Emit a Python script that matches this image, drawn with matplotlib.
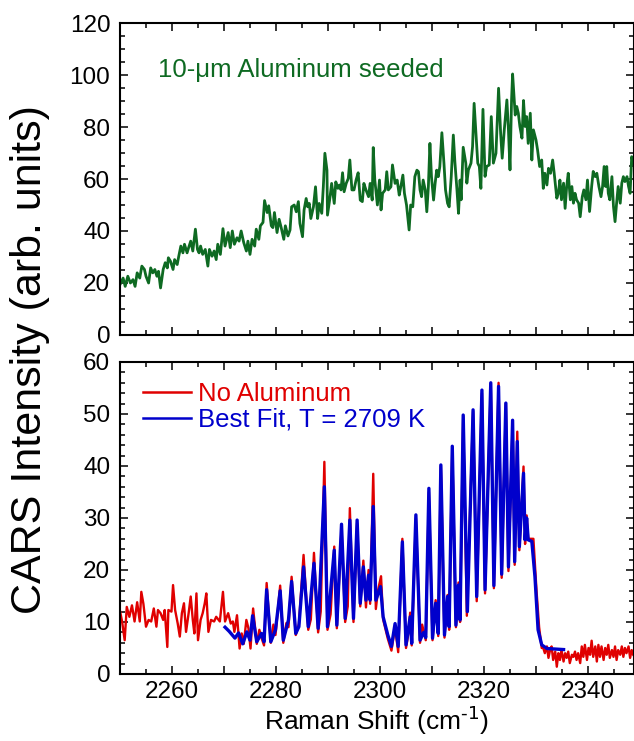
import numpy as np
import matplotlib
matplotlib.use("Agg")
import matplotlib.pyplot as plt
from matplotlib.ticker import MultipleLocator, FuncFormatter

plt.rcParams['font.family'] = ['Liberation Sans', 'DejaVu Sans']
plt.rcParams['mathtext.default'] = 'regular'

# top panel: 10-um aluminum seeded spectrum
green_x = [2250.0, 2250.6, 2251.0, 2251.5, 2252.0, 2252.5, 2252.9, 2253.3, 2253.8, 2254.2,
           2254.7, 2255.0, 2255.5, 2255.9, 2256.3, 2256.7, 2257.1, 2257.4, 2257.8, 2258.3,
           2258.7, 2259.1, 2259.3, 2259.7, 2260.2, 2260.5, 2261.0, 2261.3, 2261.7, 2262.1,
           2262.4, 2262.9, 2263.2, 2263.6, 2264.0, 2264.5, 2264.9, 2265.2, 2265.5, 2265.9,
           2266.4, 2266.9, 2267.2, 2267.7, 2268.1, 2268.5, 2268.8, 2269.3, 2269.8, 2270.2,
           2270.8, 2271.2, 2271.6, 2272.0, 2272.5, 2272.9, 2273.3, 2273.8, 2274.3, 2274.6,
           2275.0, 2275.4, 2275.9, 2276.2, 2276.7, 2277.0, 2277.5, 2277.8, 2278.3, 2278.6,
           2279.1, 2279.4, 2279.7, 2280.2, 2280.6, 2281.0, 2281.5, 2281.8, 2282.3,
           2282.7, 2283.0, 2283.5, 2283.9, 2284.3, 2284.6, 2285.1, 2285.4, 2285.8, 2286.1,
           2286.4, 2286.7, 2287.2, 2287.6, 2288.0, 2288.3, 2288.8, 2289.1, 2289.4, 2289.8,
           2289.9, 2290.4, 2290.7, 2291.2, 2291.5, 2291.9, 2292.2, 2292.5, 2292.8, 2293.1,
           2293.5, 2293.9, 2294.2, 2294.6, 2295.0, 2295.4, 2295.8, 2296.2, 2296.6, 2296.9,
           2297.3, 2297.8, 2298.1, 2298.5, 2298.7, 2299.0, 2299.5, 2299.9, 2300.2, 2300.5,
           2301.0, 2301.3, 2301.6, 2302.1, 2302.4, 2302.9, 2303.3, 2303.7, 2304.0, 2304.4,
           2304.7, 2305.1, 2305.6, 2305.9, 2306.3, 2306.7, 2307.1, 2307.4, 2307.7, 2308.0,
           2308.3, 2308.7, 2309.0, 2309.3, 2309.6, 2309.9, 2310.3, 2310.6, 2310.9, 2311.2,
           2311.5, 2311.9, 2312.3, 2312.6, 2313.0, 2313.3, 2313.7, 2314.1, 2314.4, 2314.8,
           2315.1, 2315.4, 2315.6, 2316.0, 2316.5, 2316.7, 2317.0, 2317.5, 2317.8, 2318.1,
           2318.5, 2318.8, 2319.1, 2319.4, 2319.8, 2320.2, 2320.5, 2321.0, 2321.4, 2321.8,
           2322.3, 2322.8, 2323.2, 2323.5, 2323.9, 2324.4, 2324.7, 2325.0, 2325.3, 2325.5,
           2326.0, 2326.3, 2326.6, 2326.9, 2327.3, 2327.6, 2327.9, 2328.2, 2328.5, 2328.9,
           2329.2, 2329.5, 2330.0, 2330.3, 2330.7, 2331.1, 2331.4, 2331.7, 2332.1, 2332.4,
           2332.8, 2333.2, 2333.5, 2334.0, 2334.3, 2334.6, 2334.9, 2335.3, 2335.6, 2335.9,
           2336.2, 2336.6, 2336.9, 2337.2, 2337.5, 2337.8, 2338.2, 2338.5, 2338.9, 2339.2,
           2339.6, 2339.9, 2340.3, 2340.7, 2341.0, 2341.4, 2341.7, 2342.1, 2342.5, 2342.8,
           2343.1, 2343.4, 2343.6, 2343.9, 2344.2, 2344.6, 2344.9, 2345.2, 2345.5, 2345.8,
           2346.2, 2346.5, 2346.8, 2347.1, 2347.5, 2347.8, 2348.1, 2348.4, 2348.7]
green_y = [19.4, 21.9, 18.7, 22.6, 20.0, 21.3, 18.7, 23.9, 21.9, 26.5,
           25.2, 22.6, 20.0, 25.8, 23.9, 25.2, 22.6, 24.5, 18.1, 25.2,
           27.8, 25.8, 29.7, 28.4, 25.2, 29.0, 27.1, 30.3, 34.2, 31.6,
           34.9, 31.6, 33.6, 36.1, 32.3, 40.7, 32.9, 31.6, 34.2, 31.0,
           32.9, 26.5, 32.9, 30.3, 32.3, 29.0, 34.9, 31.0, 40.9, 34.2,
           39.4, 33.6, 40.0, 34.9, 37.4, 36.1, 40.0, 35.5, 32.3, 36.1,
           31.0, 36.8, 34.2, 40.7, 36.8, 42.0, 43.3, 51.7, 47.1, 49.7,
           42.0, 41.3, 47.1, 39.4, 44.5, 41.3, 36.8, 42.0, 38.1,
           40.4, 49.3, 50.0, 47.4, 51.3, 42.9, 37.8, 48.1, 52.5, 49.3,
           50.6, 44.8, 49.3, 57.0, 44.8, 50.6, 46.8, 57.0, 69.9, 63.4,
           46.1, 53.2, 58.3, 50.6, 58.9, 56.4, 57.7, 55.8, 62.4, 55.1,
           58.3, 60.2, 67.3, 55.8, 55.8, 59.6, 62.4, 51.9, 51.3, 58.3,
           55.8, 53.2, 58.3, 51.9, 72.1, 59.6, 50.0, 59.6, 48.1, 54.5,
           55.8, 62.8, 55.8, 57.0, 65.4, 58.3, 59.6, 53.8, 57.0, 61.5,
           54.5, 50.0, 40.4, 50.0, 49.3, 60.9, 63.4, 62.8, 55.8, 53.2,
           59.6, 55.8, 47.4, 57.0, 73.7, 60.9, 51.9, 58.3, 63.4, 60.9,
           64.7, 77.8, 66.0, 55.8, 50.6, 49.3, 60.9, 76.9, 66.6, 55.8,
           46.8, 59.6, 52.0, 72.2, 66.1, 58.4, 63.5, 66.1, 72.5, 89.1,
           76.3, 66.1, 64.8, 56.4, 86.8, 61.0, 64.8, 65.4, 84.0, 66.1,
           69.9, 94.9, 77.6, 68.0, 78.9, 90.4, 78.9, 63.5, 90.4, 100.4,
           84.6, 87.9, 85.3, 80.2, 75.7, 90.2, 80.2, 84.0, 73.7, 85.3,
           67.3, 78.9, 75.0, 71.2, 64.8, 67.3, 56.4, 62.2, 57.7, 64.1,
           62.2, 67.3, 62.2, 52.6, 54.5, 59.6, 52.0, 58.4, 48.7, 57.1,
           62.2, 52.0, 57.1, 50.7, 54.5, 52.0, 50.7, 45.5, 53.2, 55.8,
           52.0, 59.6, 47.5, 57.1, 62.9, 60.9, 62.2, 57.1, 53.2, 57.1,
           64.8, 57.1, 64.8, 54.5, 52.0, 60.9, 49.4, 43.6, 50.7, 57.1,
           50.7, 58.4, 60.9, 59.0, 60.9, 57.1, 54.5, 68.6, 66.1]

# bottom panel: measured spectrum without aluminum
red_x = [2250.0, 2250.4, 2250.9, 2251.3, 2251.8, 2252.3, 2252.8, 2253.3, 2253.8, 2254.1,
         2254.5, 2255.0, 2255.5, 2256.0, 2256.5, 2257.0, 2257.3, 2257.8, 2258.3, 2258.6,
         2259.1, 2259.3, 2259.9, 2260.2, 2260.6, 2261.1, 2261.5, 2261.9, 2262.3, 2262.7,
         2263.2, 2263.6, 2264.0, 2264.3, 2264.7, 2265.0, 2265.5, 2265.9, 2266.3, 2266.6,
         2267.0, 2267.5, 2268.1, 2268.5, 2269.2, 2269.8, 2270.2, 2270.8, 2271.3, 2271.7,
         2272.0, 2272.5, 2273.0, 2273.4, 2273.8, 2274.3, 2274.7, 2275.1,
         2275.6, 2276.3, 2276.8, 2277.2, 2277.7, 2278.2, 2279.0, 2279.5, 2279.9, 2280.8,
         2281.4, 2282.0, 2282.4, 2283.0, 2283.8, 2284.4, 2285.3, 2286.2, 2286.7, 2287.3,
         2288.1, 2288.6, 2289.3, 2289.9, 2290.5, 2291.2, 2291.7, 2292.6, 2293.3, 2293.8,
         2294.2, 2294.9, 2295.6, 2296.2, 2296.8, 2297.3, 2297.8, 2298.1, 2298.7, 2299.2,
         2299.6, 2300.2, 2300.6, 2301.5, 2302.2, 2302.9, 2303.5, 2304.3, 2305.0, 2305.5,
         2305.8, 2306.1, 2306.9, 2307.7, 2308.1, 2308.8, 2309.4, 2310.1, 2310.7, 2311.2,
         2311.7, 2312.4, 2313.0, 2313.3, 2313.9, 2314.6, 2315.1, 2315.4, 2316.0, 2316.7,
         2317.9, 2318.6, 2319.6, 2320.2, 2321.3, 2321.9, 2322.8, 2323.4, 2324.2, 2324.7,
         2325.5, 2325.9, 2326.4, 2326.8, 2327.6, 2327.9, 2328.2, 2328.5, 2329.5, 2330.1,
         2330.6, 2331.1,
         2331.4, 2331.7, 2332.1, 2332.4, 2332.7, 2333.0, 2333.3, 2333.7, 2334.0, 2334.3,
         2334.6, 2334.9, 2335.3, 2335.6, 2335.9, 2336.2, 2336.5, 2336.9, 2337.2, 2337.5,
         2337.8, 2338.1, 2338.5, 2338.8, 2339.1, 2339.4, 2339.8, 2340.1, 2340.4, 2340.7,
         2341.0, 2341.4, 2341.7, 2342.0, 2342.3, 2342.6, 2343.0, 2343.3, 2343.6, 2343.9,
         2344.2, 2344.6, 2344.9, 2345.2, 2345.5, 2345.8, 2346.2, 2346.5, 2346.8, 2347.1,
         2347.4, 2347.8, 2348.1, 2348.4, 2348.7]
red_y = [12.1, 10.1, 6.5, 12.9, 11.0, 13.2, 10.1, 13.8, 10.1, 15.8,
         13.5, 9.1, 10.4, 10.1, 12.6, 9.1, 12.3, 11.7, 10.4, 12.3,
         5.2, 12.3, 12.0, 17.1, 12.3, 9.7, 7.2, 11.7, 13.6, 8.1,
         11.7, 14.9, 10.4, 7.8, 15.5, 6.5, 10.4, 11.7, 13.6, 15.5,
         8.1, 10.4, 10.1, 11.0, 10.1, 15.8, 10.1, 11.7, 9.7, 10.1,
         8.1, 11.3, 4.9, 7.8, 5.8, 10.4, 8.8, 4.9,
         12.6, 5.8, 8.5, 7.0, 5.5, 17.5, 6.0, 9.5, 7.5, 17.0,
         6.0, 9.8, 9.0, 18.7, 7.5, 9.6, 22.9, 8.5, 10.5, 23.3,
         8.0, 12.0, 40.8, 8.5, 11.5, 24.5, 8.8, 28.0, 10.0, 13.0,
         31.9, 10.0, 29.0, 13.0, 21.8, 12.8, 20.0, 13.5, 38.5, 12.5,
         16.0, 18.8, 10.5, 6.8, 4.5, 9.0, 4.2, 26.0, 5.0, 8.0,
         11.8, 5.5, 30.0, 6.0, 9.5, 6.5, 35.0, 6.5, 14.2, 7.3,
         40.0, 7.0, 15.2, 8.5, 43.5, 9.0, 17.6, 10.0, 49.5, 11.2,
         50.5, 14.0, 54.0, 15.5, 55.8, 16.5, 56.0, 18.5, 52.0, 19.8,
         48.0, 21.0, 46.6, 23.8, 39.9, 25.0, 30.5, 26.0, 26.0, 16.0,
         9.0, 5.0,
         5.0, 4.0, 5.3, 3.1, 4.6, 5.3, 2.7, 4.3, 1.4, 4.0,
         2.7, 4.6, 2.4, 4.0, 3.1, 4.3, 2.1, 3.7, 3.3, 4.3,
         2.7, 4.0, 2.1, 5.3, 3.3, 5.6, 2.7, 5.0, 3.7, 6.4,
         3.3, 5.3, 2.4, 5.6, 3.3, 5.3, 2.7, 5.0, 3.7, 5.6,
         3.1, 4.6, 3.3, 5.3, 2.7, 4.6, 3.7, 5.3, 3.3, 5.0,
         4.0, 5.3, 3.1, 4.6, 3.7]

# best fit (T = 2709 K)
blue_x = [2270.2, 2271.0, 2272.1, 2272.8, 2273.6, 2274.4, 2275.0, 2275.5, 2276.3, 2277.2,
          2277.7, 2278.2, 2279.0, 2279.9, 2280.8, 2281.4, 2282.4, 2283.0, 2283.8, 2284.4,
          2285.3, 2286.2, 2287.3, 2288.1, 2289.3, 2289.9, 2291.2, 2291.7, 2292.6, 2293.3,
          2294.2, 2294.9, 2295.6, 2296.2, 2296.8, 2297.3, 2297.8, 2298.1, 2298.7, 2299.2,
          2300.1, 2300.6, 2301.5, 2302.2, 2302.9, 2303.5, 2304.3, 2305.0, 2305.8, 2306.1,
          2306.9, 2307.7, 2308.4, 2308.8, 2309.4, 2310.1, 2310.7, 2311.2, 2311.7, 2312.4,
          2313.0, 2313.3, 2313.9, 2314.6, 2315.1, 2315.4, 2316.0, 2316.8, 2317.9, 2318.6,
          2319.6, 2320.2, 2321.3, 2321.9, 2322.8, 2323.4, 2324.2, 2324.7, 2325.5, 2325.9,
          2326.4, 2326.8, 2327.6, 2327.9, 2328.2, 2328.5, 2329.2, 2329.8, 2330.4, 2331.1,
          2332.1, 2335.3]
blue_y = [9.0, 8.2, 6.9, 7.9, 5.8, 8.1, 6.5, 11.2, 6.2, 7.8,
          6.2, 16.2, 6.2, 8.5, 16.0, 6.5, 10.4, 17.8, 7.8, 9.1,
          20.6, 9.1, 21.3, 8.8, 36.0, 9.1, 23.8, 9.4, 28.8, 10.7,
          29.6, 10.7, 29.6, 13.6, 20.6, 14.2, 19.0, 14.2, 32.2, 14.2,
          16.8, 11.0, 7.5, 5.3, 9.7, 5.3, 25.4, 5.6, 11.0, 5.9,
          30.6, 6.5, 8.0, 7.0, 35.7, 6.9, 13.6, 7.8, 40.2, 7.5,
          14.9, 9.1, 43.8, 9.4, 17.1, 10.4, 49.8, 12.0, 50.8, 14.9,
          54.6, 16.2, 56.0, 17.0, 55.3, 19.2, 52.1, 20.6, 48.8, 21.6,
          44.7, 24.5, 38.6, 25.8, 30.0, 25.8, 25.5, 18.7, 8.5, 5.6,
          4.9, 4.7]

green = '#0e6a22'
red = '#e00000'
blue = '#0000cc'

fig = plt.figure(figsize=(6.34, 7.41), dpi=100)
W, H = 634.0, 741.0
ax1 = fig.add_axes([120 / W, 1 - 335 / H, 513.5 / W, 312 / H])
ax2 = fig.add_axes([120 / W, 1 - 674 / H, 513.5 / W, 312 / H])

ax1.plot(green_x, green_y, color=green, lw=2.0)
ax2.plot(red_x, red_y, color=red, lw=1.7, label='No Aluminum')
ax2.plot(blue_x, blue_y, color=blue, lw=2.4, label='Best Fit, T = 2709 K')


def xfmt(v, pos):
    if round(v) % 20 == 0:
        return '%d' % round(v)
    return ''


for ax in (ax1, ax2):
    ax.set_xlim(2250, 2348.75)
    ax.xaxis.set_major_locator(MultipleLocator(10))
    ax.xaxis.set_minor_locator(MultipleLocator(5))
    ax.tick_params(which='both', direction='in', top=True, right=True,
                   width=1.1, labelsize=17.5)
    ax.tick_params(which='major', length=6)
    ax.tick_params(which='minor', length=3.8)
    ax.tick_params(axis='y', pad=7)
    ax.tick_params(axis='x', pad=5)
    for s in ax.spines.values():
        s.set_linewidth(1.5)

ax1.set_ylim(0, 120)
ax1.yaxis.set_major_locator(MultipleLocator(20))
ax1.yaxis.set_minor_locator(MultipleLocator(5))
ax1.tick_params(labelbottom=False)

ax2.set_ylim(0, 60)
ax2.yaxis.set_major_locator(MultipleLocator(10))
ax2.yaxis.set_minor_locator(MultipleLocator(2))
ax2.xaxis.set_major_formatter(FuncFormatter(xfmt))

ax1.text(0.074, 0.849, '10-\u03bcm Aluminum seeded', transform=ax1.transAxes,
         color=green, fontsize=18.5, ha='left', va='center')

leg = ax2.legend(loc='upper left', bbox_to_anchor=(0.045, 0.935), frameon=False,
                 fontsize=18.5, handlelength=1.85, handletextpad=0.3,
                 labelspacing=0.05, borderpad=0, borderaxespad=0,
                 labelcolor='linecolor')
for ln in leg.get_lines():
    ln.set_linewidth(1.8)

ax2.set_xlabel('Raman Shift (cm$^{\\text{-1}}$)', fontsize=19, labelpad=1)
fig.text(30 / W, 1 - 360 / H, 'CARS Intensity (arb. units)', rotation=90,
         fontsize=31, ha='center', va='center')

fig.savefig('out.png', dpi=100)
